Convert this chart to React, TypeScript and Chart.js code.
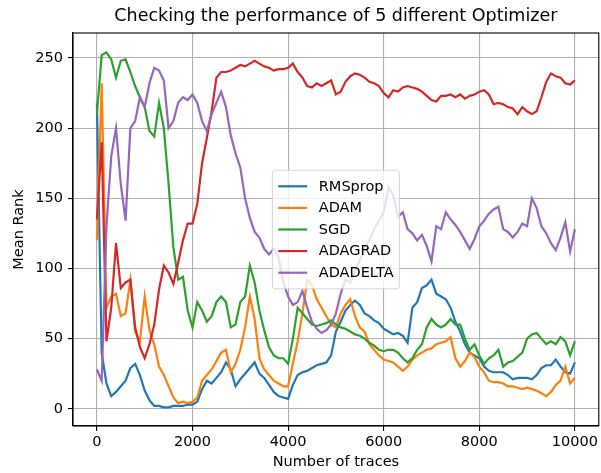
import React, { useEffect, useRef } from "react";
import { Chart, registerables } from "chart.js";

Chart.register(...registerables);

const TRACE_STEP = 100; // one reading every 100 traces, 0 .. 10000

const seriesLabels = ["RMSprop", "ADAM", "SGD", "ADAGRAD", "ADADELTA"];
const seriesColors = ["#1f77b4", "#ff7f0e", "#2ca02c", "#d62728", "#9467bd"];

const rmsprop = [
  218, 40, 18, 9, 12, 16, 20, 29, 32, 24,
  13, 6, 2, 2, 1, 1, 2, 2, 2, 3,
  3, 5, 14, 20, 18, 22, 26, 33, 28, 16,
  21, 25, 29, 33, 25, 22, 17, 12, 9, 8,
  7, 17, 24, 26, 27, 29, 31, 32, 33, 38,
  55, 62, 70, 74, 77, 74, 68, 66, 63, 61,
  57, 55, 53, 54, 52, 47, 72, 76, 86, 88,
  92, 82, 80, 78, 72, 62, 55, 46, 40, 38,
  36, 30, 27, 26, 26, 26, 24, 21, 22, 22,
  22, 21, 24, 29, 31, 31, 35, 30, 26, 25,
  33,
];

const adam = [
  120, 232, 72, 80, 82, 66, 68, 92, 55, 48,
  80, 56, 46, 30, 24, 16, 8, 4, 5, 4,
  5, 8, 20, 24, 28, 34, 40, 42, 26, 32,
  42, 58, 80, 64, 36, 28, 24, 20, 18, 16,
  16, 32, 48, 68, 92, 88, 78, 72, 66, 60,
  58, 68, 74, 78, 66, 58, 55, 46, 42, 38,
  35, 34, 33, 30, 27, 30, 35, 38, 40, 42,
  43, 46, 47, 48, 51, 36, 30, 34, 40, 37,
  30, 26, 20, 19, 19, 18, 16, 16, 15, 14,
  15, 14, 13, 11, 9, 12, 17, 20, 30, 18,
  22,
];

const sgd = [
  210, 252, 254, 249, 236, 248, 249, 240, 230, 222,
  215, 198, 194, 218, 200, 160, 115, 92, 94, 70,
  58, 76, 70, 62, 66, 76, 80, 76, 58, 60,
  76, 80, 102, 90, 70, 56, 44, 38, 36, 36,
  32, 50, 72, 68, 64, 60, 59, 60, 61, 63,
  60, 58, 57, 55, 53, 52, 50, 47, 45, 42,
  41, 42, 42, 40, 36, 33, 36, 42, 46, 58,
  64, 60, 58, 60, 64, 60, 60, 50, 42, 46,
  38, 32, 36, 38, 42, 30, 33, 34, 37, 40,
  50, 53, 54, 50, 46, 48, 46, 51, 48, 38,
  48,
];

const adagrad = [
  135, 190, 48, 72, 118, 86, 90, 92, 58, 44,
  36, 46, 60, 85, 102, 97, 89, 104, 120, 132,
  132, 146, 175, 193, 212, 236, 240, 240, 241, 243,
  245, 244, 246, 248, 246, 244, 243, 241, 242, 242,
  243, 246, 240, 236, 230, 229, 232, 230, 232, 234,
  224, 226, 233, 237, 239, 238, 236, 233, 232, 230,
  225, 222, 227, 226, 229, 230, 229, 228, 226, 223,
  220, 219, 223, 223, 224, 222, 224, 221, 223, 224,
  226, 227, 224, 217, 218, 217, 215, 214, 210, 215,
  212, 210, 212, 222, 233, 239, 237, 236, 232, 231,
  234,
];

const adadelta = [
  28, 20, 130, 180, 200, 160, 134, 200, 205, 222,
  215, 232, 243, 241, 234, 200, 205, 218, 222, 220,
  224, 218, 205, 198, 210, 218, 226, 215, 195, 182,
  172, 150, 136, 126, 122, 114, 110, 114, 108, 90,
  80, 74, 76, 84, 72, 62, 57, 54, 56, 60,
  68, 82, 92, 90, 98, 106, 115, 120, 128, 134,
  140, 158, 152, 137, 140, 128, 125, 120, 124, 116,
  105, 130, 128, 140, 135, 131, 126, 120, 114, 121,
  130, 134, 139, 142, 144, 128, 126, 122, 126, 132,
  130, 150, 143, 130, 125, 118, 113, 122, 133, 112,
  128,
];

const xTicks = [0, 2000, 4000, 6000, 8000, 10000];
const yTicks = [0, 50, 100, 150, 200, 250];

const chartTitle = "Checking the performance of 5 different Optimizer";
const xTitle = "Number of traces";
const yTitle = "Mean Rank";

const FONT = "'DejaVu Sans', sans-serif";
const FS = 14.5;

const framePlugin = {
  id: "frame",
  afterDatasetsDraw(chart: any) {
    const { ctx, chartArea: a } = chart;
    ctx.save();
    ctx.strokeStyle = "#000";
    ctx.lineWidth = 1.1;
    ctx.strokeRect(a.left, a.top, a.right - a.left, a.bottom - a.top);
    ctx.restore();
  },
};

const legendPlugin = {
  id: "mplLegend",
  afterDraw(chart: any) {
    const { ctx, chartArea: a } = chart;
    const ds = chart.data.datasets;
    ctx.save();
    ctx.font = `${FS}px ${FONT}`;
    let maxW = 0;
    ds.forEach((d: any) => {
      maxW = Math.max(maxW, ctx.measureText(d.label).width);
    });
    const pad = 0.4 * FS;
    const handle = 2 * FS;
    const gap = 0.8 * FS;
    const rowH = 21.6;
    const w = pad + handle + gap + maxW + pad;
    const h = rowH * ds.length + 2 * pad - 1;
    const cx = (a.left + a.right) / 2;
    const cy = (a.top + a.bottom) / 2;
    const left = cx - w / 2;
    const top = cy - h / 2;
    const r = 3;
    ctx.beginPath();
    ctx.moveTo(left + r, top);
    ctx.lineTo(left + w - r, top);
    ctx.quadraticCurveTo(left + w, top, left + w, top + r);
    ctx.lineTo(left + w, top + h - r);
    ctx.quadraticCurveTo(left + w, top + h, left + w - r, top + h);
    ctx.lineTo(left + r, top + h);
    ctx.quadraticCurveTo(left, top + h, left, top + h - r);
    ctx.lineTo(left, top + r);
    ctx.quadraticCurveTo(left, top, left + r, top);
    ctx.closePath();
    ctx.fillStyle = "rgba(255,255,255,0.8)";
    ctx.fill();
    ctx.strokeStyle = "rgba(204,204,204,0.8)";
    ctx.lineWidth = 1;
    ctx.stroke();
    ds.forEach((d: any, i: number) => {
      const y = cy + (i - (ds.length - 1) / 2) * rowH;
      ctx.strokeStyle = d.borderColor;
      ctx.lineWidth = 2.2;
      ctx.beginPath();
      ctx.moveTo(left + pad, y);
      ctx.lineTo(left + pad + handle, y);
      ctx.stroke();
      ctx.fillStyle = "#000";
      ctx.textBaseline = "middle";
      ctx.textAlign = "left";
      ctx.fillText(d.label, left + pad + handle + gap, y + 0.5);
    });
    ctx.restore();
  },
};

const titlePlugin = {
  id: "mplTitle",
  afterDraw(chart: any) {
    const { ctx, chartArea: a } = chart;
    ctx.save();
    ctx.font = `17.5px ${FONT}`;
    ctx.fillStyle = "#000";
    ctx.textAlign = "center";
    ctx.textBaseline = "alphabetic";
    ctx.fillText(chartTitle, (a.left + a.right) / 2, 21);
    ctx.restore();
  },
};

export default function App() {
  const ref = useRef<HTMLCanvasElement | null>(null);

  useEffect(() => {
    document.body.style.margin = "0";
    const all = [rmsprop, adam, sgd, adagrad, adadelta];
    const chart = new Chart(ref.current as HTMLCanvasElement, {
      type: "line",
      data: {
        datasets: all.map((s, i) => ({
          label: seriesLabels[i],
          data: s.map((v, j) => ({ x: j * TRACE_STEP, y: v })),
          borderColor: seriesColors[i],
          backgroundColor: seriesColors[i],
          borderWidth: 2.2,
          pointRadius: 0,
          tension: 0,
          fill: false,
          order: all.length - i,
        })),
      },
      options: {
        animation: false,
        responsive: false,
        maintainAspectRatio: false,
        layout: { padding: { left: 0, right: 1, top: 33, bottom: 0 } },
        plugins: {
          legend: { display: false },
          title: { display: false },
          tooltip: { enabled: false },
        },
        scales: {
          x: {
            type: "linear",
            min: -500,
            max: 10500,
            afterBuildTicks: (s: any) => {
              s.ticks = xTicks.map((v) => ({ value: v }));
            },
            afterFit: (s: any) => {
              s.height = 47;
            },
            grid: {
              color: "#b0b0b0",
              lineWidth: 1.1,
              drawTicks: true,
              tickLength: 5,
              tickColor: "#000",
              tickWidth: 1.1,
            },
            border: { display: true, color: "#000", width: 1.1 },
            ticks: {
              color: "#000",
              font: { family: FONT, size: FS },
              padding: 3,
              maxRotation: 0,
              autoSkip: false,
              callback: (v: any) => String(v),
            },
            title: {
              display: true,
              text: xTitle,
              color: "#000",
              font: { family: FONT, size: FS },
              padding: { top: 0, bottom: 2 },
            },
          },
          y: {
            type: "linear",
            min: -12.3,
            max: 267.8,
            afterBuildTicks: (s: any) => {
              s.ticks = yTicks.map((v) => ({ value: v }));
            },
            afterFit: (s: any) => {
              s.width = 73;
            },
            grid: {
              color: "#b0b0b0",
              lineWidth: 1.1,
              drawTicks: true,
              tickLength: 5,
              tickColor: "#000",
              tickWidth: 1.1,
            },
            border: { display: true, color: "#000", width: 1.1 },
            ticks: {
              color: "#000",
              font: { family: FONT, size: FS },
              padding: 5,
              autoSkip: false,
              callback: (v: any) => String(v),
            },
            title: {
              display: true,
              text: yTitle,
              color: "#000",
              font: { family: FONT, size: FS },
              padding: { top: 11, bottom: 0 },
            },
          },
        },
      },
      plugins: [framePlugin, legendPlugin, titlePlugin],
    } as any);
    return () => chart.destroy();
  }, []);

  return (
    <div style={{ position: "absolute", left: 0, top: 0, width: 601, height: 473 }}>
      <canvas
        ref={ref}
        width={601}
        height={473}
        style={{ width: 601, height: 473, display: "block" }}
      />
    </div>
  );
}
